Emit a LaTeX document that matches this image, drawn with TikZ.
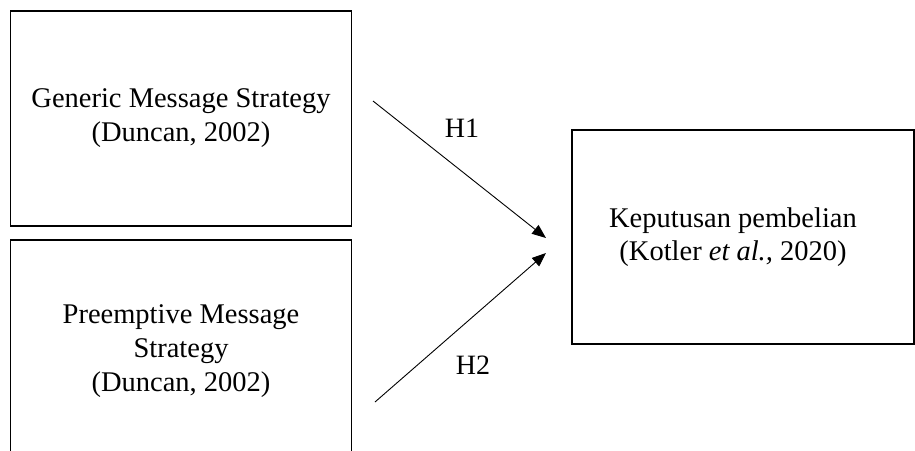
\documentclass[tikz,border=0pt]{standalone}
\usepackage{fontspec}
\setmainfont{Liberation Serif}
\usetikzlibrary{arrows.meta}

\tikzset{
  kotak/.style={draw, line width=1.8pt, align=center, inner sep=0pt,
    font=\fontsize{28.5}{34}\selectfont},
  panah/.style={line width=0.9pt, -{Triangle[length=14pt,width=11pt]}},
  label h/.style={font=\fontsize{28}{30}\selectfont, inner sep=0pt}
}

\begin{document}
\begin{tikzpicture}[x=1pt,y=-1pt]
\useasboundingbox (0,0) rectangle (915,450);

% X1
\node[kotak, minimum width=341pt, minimum height=215pt] (gms) at (181,118.5)
  {Generic Message Strategy\\(Duncan, 2002)};

% X2
\node[kotak, minimum width=341pt, minimum height=222pt] (pms) at (181,351)
  {Preemptive Message\\Strategy\\(Duncan, 2002)};

% Y
\node[kotak, minimum width=342pt, minimum height=214pt] (kp) at (743,237)
  {\begin{tabular}{@{}c@{}}Keputusan pembelian\\[-0.5pt](Kotler \textit{et al.,} 2020)\end{tabular}\kern20pt};

% hipotesis
\coordinate (h1a) at (373,101);
\coordinate (h1b) at (546,238);
\coordinate (h2a) at (375,402);
\coordinate (h2b) at (546,253);
\draw[panah] (h1a) -- (h1b);
\draw[panah] (h2a) -- (h2b);
\node[label h] (h1) at (462,128) {H1};
\node[label h] (h2) at (473,365) {H2};
\end{tikzpicture}
\end{document}
